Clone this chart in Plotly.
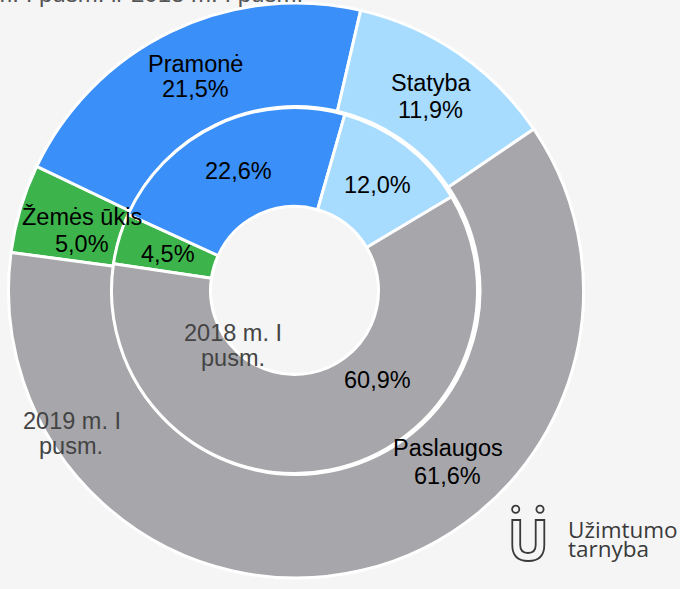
import plotly.graph_objects as go

W, H = 680, 589

categories = ["Žemės ūkis", "Pramonė", "Statyba", "Paslaugos"]
values_2019 = [5.0, 21.5, 11.9, 61.6]
values_2018 = [4.5, 22.6, 12.0, 60.9]
series_names = ["2019 m. I pusm.", "2018 m. I pusm."]
colors = ["#3cb44b", "#3a8ff8", "#a7dcff", "#a7a7ab"]
title_text = "Užimtųjų struktūra pagal ekonominės veiklos sektorius 2019 m. I pusm. ir 2018 m. I pusm."

def fmt(v):
    return f"{v:.1f}".replace(".", ",") + "%"

def px(x, y):
    return x / W, 1 - y / H

BG = "#f5f5f5"
FONT = "Liberation Sans, Arial, sans-serif"
FS = 23.5

fig = go.Figure()

# outer ring: 2019
oc, oR = (296, 290.5), 287.5
fig.add_trace(go.Pie(
    labels=categories, values=values_2019, name=series_names[0],
    sort=False, direction="clockwise", rotation=-82.4,
    hole=184 / 287.5,
    marker=dict(colors=colors, line=dict(color="white", width=3)),
    textinfo="none", hoverinfo="label+percent",
    domain=dict(x=[(oc[0] - oR) / W, (oc[0] + oR) / W],
                y=[(H - oc[1] - oR) / H, (H - oc[1] + oR) / H]),
    showlegend=False,
))

# inner ring: 2018
ic, iR = (294.5, 290.5), 183
fig.add_trace(go.Pie(
    labels=categories, values=values_2018, name=series_names[1],
    sort=False, direction="clockwise", rotation=-81.6,
    hole=84 / 183,
    marker=dict(colors=colors, line=dict(color="white", width=3)),
    textinfo="none", hoverinfo="label+percent",
    domain=dict(x=[(ic[0] - iR) / W, (ic[0] + iR) / W],
                y=[(H - ic[1] - iR) / H, (H - ic[1] + iR) / H]),
    showlegend=False,
))

annotations = []

def add_text(text, x, y, color="#000000", size=FS, anchor="center", family=FONT):
    ax, ay = px(x, y)
    annotations.append(dict(
        text=text, x=ax, y=ay, xref="paper", yref="paper",
        xanchor=anchor, yanchor="middle", showarrow=False,
        font=dict(family=family, size=size, color=color),
    ))

# outer ring labels (category name + value)
outer_label_pos = {
    "Žemės ūkis": ((82, 217), (82, 244)),
    "Pramonė": ((196, 64), (196, 89)),
    "Statyba": ((431, 83), (430, 110.5)),
    "Paslaugos": ((448, 448), (447, 476)),
}
for cat, v in zip(categories, values_2019):
    (nx, ny), (vx, vy) = outer_label_pos[cat]
    add_text(cat, nx, ny)
    add_text(fmt(v), vx, vy)

# inner ring labels (value only)
inner_label_pos = {
    "Žemės ūkis": (168, 254),
    "Pramonė": (239, 171),
    "Statyba": (377, 185),
    "Paslaugos": (377, 380),
}
for cat, v in zip(categories, values_2018):
    x, y = inner_label_pos[cat]
    add_text(fmt(v), x, y)

# series names
add_text("2019 m. I", 72, 420.5, color="#444444")
add_text("pusm.", 71, 445.5, color="#444444")
add_text("2018 m. I", 233, 333, color="#444444")
add_text("pusm.", 233, 358, color="#444444")

# title (clipped at top)
add_text(title_text, 305, -7, color="#555555", size=24, anchor="right")

# logo text
add_text("Užimtumo", 566, 529.5, color="#3a3a3a", size=22.5, anchor="left", family="Open Sans, sans-serif")
add_text("tarnyba", 566, 548.5, color="#3a3a3a", size=22.5, anchor="left", family="Open Sans, sans-serif")

# logo icon shapes
shapes = []
LC = "#3a3a3a"
for cx in (515.7, 540.0):
    x0, y0 = px(cx - 3.6, 509.3 - 3.6)
    x1, y1 = px(cx + 3.6, 509.3 + 3.6)
    shapes.append(dict(type="circle", xref="paper", yref="paper",
                       x0=x0, y0=y1, x1=x1, y1=y0,
                       line=dict(color=LC, width=1.8)))

def path_from(points_cmds):
    out = []
    for cmd, pts in points_cmds:
        coords = " ".join(f"{px(a, b)[0]:.5f},{px(a, b)[1]:.5f}" for a, b in pts)
        out.append(f"{cmd} {coords}")
    return " ".join(out)

outer_u = path_from([
    ("M", [(512.3, 520)]), ("L", [(512.3, 545)]),
    ("Q", [(512.3, 561), (528.3, 561)]),
    ("Q", [(544.3, 561), (544.3, 545)]),
    ("L", [(544.3, 520)]), ("L", [(535.7, 520)]),
    ("L", [(535.7, 545)]),
    ("Q", [(535.7, 553), (528, 553)]),
    ("Q", [(520.2, 553), (520.2, 545)]),
    ("L", [(520.2, 520)]), ("Z", []),
])
shapes.append(dict(type="path", xref="paper", yref="paper", path=outer_u,
                   line=dict(color=LC, width=1.8)))

fig.update_layout(
    width=W, height=H,
    margin=dict(l=0, r=0, t=0, b=0),
    paper_bgcolor=BG, plot_bgcolor=BG,
    annotations=annotations, shapes=shapes,
    showlegend=False,
)

fig.write_html(
    "out.html",
    config={"displayModeBar": False},
    post_script="document.body.style.margin='0';document.body.style.overflow='hidden';",
)
